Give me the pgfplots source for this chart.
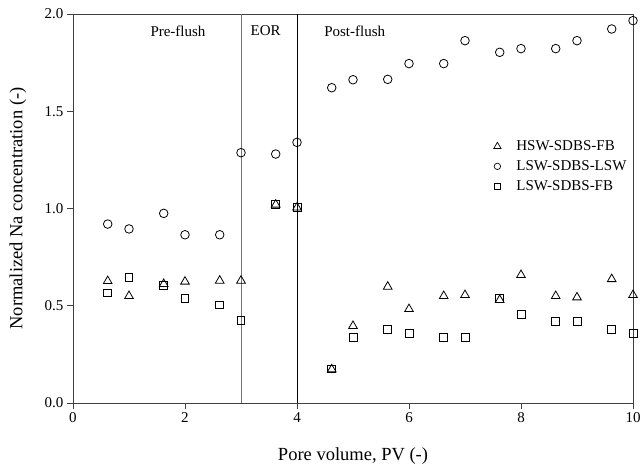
\documentclass[border=0pt]{standalone}
\usepackage{fontspec}
\setmainfont{Liberation Serif}
\usepackage{pgfplots}
\pgfplotsset{compat=1.18}

\begin{document}
\begin{tikzpicture}[font=\fontsize{15}{18}\selectfont]
\pgfplotsset{
  legmark/.style={legend image code/.code={
    \path[draw=none, fill=none] (-4pt,0pt) -- (17pt,0pt);
    \draw[##1, mark size=#1] plot[only marks, mark options={line width=0.7pt}] coordinates {(0pt,0pt)};}},
}
\begin{axis}[
  scale only axis,
  width=560pt,
  height=389pt,
  xmin=0, xmax=10,
  ymin=0, ymax=2,
  xtick={0,2,4,6,8,10},
  ytick={0,0.5,1,1.5,2},
  yticklabel style={/pgf/number format/.cd,fixed,fixed zerofill,precision=1},
  /pgf/number format/assume math mode=true,
  tick label style={font=\fontsize{15}{18}\selectfont},
  tick align=outside,
  tick pos=left,
  major tick length=6pt,
  axis line style={draw=black!75, line width=0.6pt},
  tick style={draw=black!75, line width=0.6pt},
  xlabel={Pore volume, PV (-)},
  ylabel={Normalized Na concentration (-)},
  every axis x label/.style={at={(axis description cs:0.5,-0.136)}, anchor=center, font=\fontsize{18.5}{20}\selectfont},
  every axis y label/.style={at={(axis description cs:-0.0982,0.5)}, anchor=center, rotate=90, font=\fontsize{18.5}{20}\selectfont},
  clip=false,
  legend style={draw=none, fill=none, at={(axis cs:7.45,1.37)}, anchor=north west,
    font=\fontsize{15}{18}\selectfont, row sep=4.5pt},
  legend cell align=left,
]
\draw[black!55, line width=0.8pt] (axis cs:3,0) -- (axis cs:3,2);
\draw[black, line width=0.8pt] (axis cs:4,0) -- (axis cs:4,2);
\node at (axis cs:1.875,1.913) {Pre-flush};
\node at (axis cs:3.44,1.913) {EOR};
\node at (axis cs:5.03,1.913) {Post-flush};

\addplot[only marks, mark=triangle, mark size=5pt, mark options={draw=black, line width=0.8pt}, legmark=4.2pt] coordinates {
(0.62,0.627) (1.0,0.55) (1.62,0.612) (2.0,0.624) (2.62,0.629) (3.0,0.629)
(3.62,1.02) (4.0,1.005) (4.62,0.173) (5.0,0.396) (5.62,0.598) (6.0,0.483)
(6.62,0.55) (7.0,0.555) (7.62,0.53) (8.0,0.658) (8.62,0.55) (9.0,0.543)
(9.62,0.637) (10.0,0.555)
};
\addlegendentry{HSW-SDBS-FB}
\addplot[only marks, mark=o, mark size=4.3pt, mark options={draw=black, line width=0.8pt}, legmark=3.2pt] coordinates {
(0.62,0.92) (1.0,0.895) (1.62,0.975) (2.0,0.865) (2.62,0.865) (3.0,1.287)
(3.62,1.28) (4.0,1.34) (4.62,1.621) (5.0,1.662) (5.62,1.664) (6.0,1.745)
(6.62,1.745) (7.0,1.863) (7.62,1.803) (8.0,1.822) (8.62,1.822) (9.0,1.863)
(9.62,1.923) (10.0,1.966)
};
\addlegendentry{LSW-SDBS-LSW}
\addplot[only marks, mark=square, mark size=3.9pt, mark options={draw=black, line width=0.8pt}, legmark=3.4pt] coordinates {
(0.62,0.566) (1.0,0.644) (1.62,0.603) (2.0,0.538) (2.62,0.504) (3.0,0.423)
(3.62,1.02) (4.0,1.005) (4.62,0.175) (5.0,0.338) (5.62,0.377) (6.0,0.356)
(6.62,0.338) (7.0,0.338) (7.62,0.538) (8.0,0.456) (8.62,0.418) (9.0,0.418)
(9.62,0.377) (10.0,0.356)
};
\addlegendentry{LSW-SDBS-FB}
\end{axis}
\pgfresetboundingbox
\path[use as bounding box] ([shift={(-73pt,-69pt)}]current axis.south west) rectangle ([shift={(10pt,14pt)}]current axis.north east);
\end{tikzpicture}
\end{document}
